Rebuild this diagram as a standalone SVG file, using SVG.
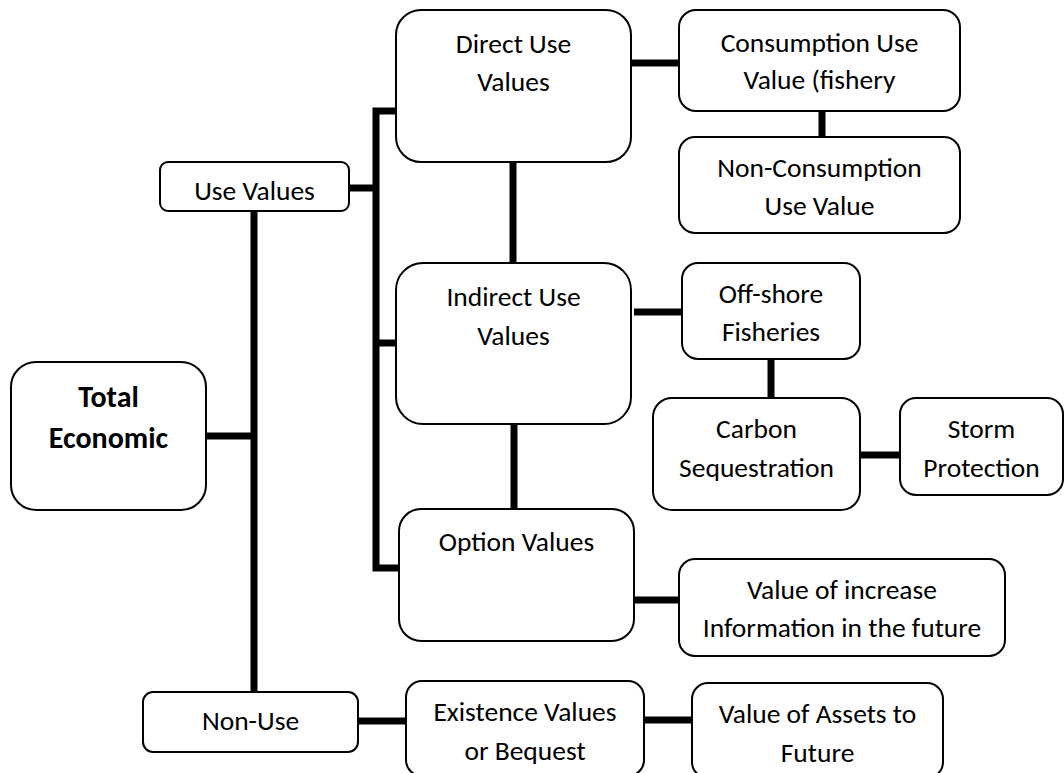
<svg xmlns="http://www.w3.org/2000/svg" width="1064" height="773" viewBox="0 0 1064 773">
  <style>
    .box { fill: #ffffff; stroke: #000000; stroke-width: 2; }
    .lbl { font-family: Carlito, Lato, "Open Sans", sans-serif; font-size: 27.5px; fill: #000000; text-anchor: middle; }
    .bold { font-weight: bold; font-size: 30px; }
    .link { fill: none; stroke: #000000; stroke-width: 7; stroke-linecap: butt; stroke-linejoin: miter; }
  </style>
  <rect width="1064" height="773" fill="#ffffff"/>

  <!-- thick connector lines -->
  <g id="connectors">
    <path class="link" d="M206 436 H254"/>
    <path class="link" d="M254 211 V692"/>
    <path class="link" d="M349 188 H376"/>
    <path class="link" d="M396 111 H376 V568 H399"/>
    <path class="link" d="M376 343 H399"/>
    <path class="link" d="M631 63 H679"/>
    <path class="link" d="M822 111 V137"/>
    <path class="link" d="M513 162 V263"/>
    <path class="link" d="M634 312 H682"/>
    <path class="link" d="M771 356 V398"/>
    <path class="link" d="M860 455 H900"/>
    <path class="link" d="M514 424 V509"/>
    <path class="link" d="M634 600 H682"/>
    <path class="link" d="M358 721 H406"/>
    <path class="link" d="M643 720 H692"/>
  </g>

  <g id="total-economic">
    <rect class="box" x="11" y="362" width="195" height="148" rx="25"/>
    <text class="lbl bold" x="108.5" y="407">Total</text>
    <text class="lbl bold" x="108.5" y="448">Economic</text>
  </g>

  <g id="use-values">
    <rect class="box" x="160" y="162" width="189" height="49" rx="8"/>
    <text class="lbl" x="254.5" y="200">Use Values</text>
  </g>

  <g id="direct-use">
    <rect class="box" x="396" y="10" width="235" height="152" rx="25"/>
    <text class="lbl" x="513.5" y="53">Direct Use</text>
    <text class="lbl" x="513.5" y="91">Values</text>
  </g>

  <g id="consumption">
    <rect class="box" x="679" y="10" width="281" height="101" rx="17"/>
    <text class="lbl" x="819.5" y="52">Consumption Use</text>
    <text class="lbl" x="819.5" y="89">Value (fishery</text>
  </g>

  <g id="non-consumption">
    <rect class="box" x="679" y="137" width="281" height="96" rx="16"/>
    <text class="lbl" x="819.5" y="177">Non-Consumption</text>
    <text class="lbl" x="819.5" y="215">Use Value</text>
  </g>

  <g id="indirect-use">
    <rect class="box" x="396" y="263" width="235" height="161" rx="27"/>
    <text class="lbl" x="513.5" y="306">Indirect Use</text>
    <text class="lbl" x="513.5" y="345">Values</text>
  </g>

  <g id="offshore">
    <rect class="box" x="682" y="263" width="178" height="96" rx="16"/>
    <text class="lbl" x="771" y="303">Off-shore</text>
    <text class="lbl" x="771" y="341">Fisheries</text>
  </g>

  <g id="carbon">
    <rect class="box" x="653" y="398" width="207" height="112" rx="19"/>
    <text class="lbl" x="756.5" y="438">Carbon</text>
    <text class="lbl" x="756.5" y="477">Sequestration</text>
  </g>

  <g id="storm">
    <rect class="box" x="900" y="398" width="163" height="97" rx="16"/>
    <text class="lbl" x="981.5" y="438">Storm</text>
    <text class="lbl" x="981.5" y="477">Protection</text>
  </g>

  <g id="option-values">
    <rect class="box" x="399" y="509" width="235" height="132" rx="22"/>
    <text class="lbl" x="516.5" y="551">Option Values</text>
  </g>

  <g id="information">
    <rect class="box" x="679" y="559" width="326" height="97" rx="16"/>
    <text class="lbl" x="842" y="599">Value of increase</text>
    <text class="lbl" x="842" y="637">Information in the future</text>
  </g>

  <g id="non-use">
    <rect class="box" x="143" y="692" width="215" height="60" rx="10"/>
    <text class="lbl" x="250.5" y="730">Non-Use</text>
  </g>

  <g id="existence">
    <rect class="box" x="406" y="681" width="238" height="95" rx="16"/>
    <text class="lbl" x="525" y="721">Existence Values</text>
    <text class="lbl" x="525" y="760">or Bequest</text>
  </g>

  <g id="assets">
    <rect class="box" x="692" y="683" width="251" height="95" rx="16"/>
    <text class="lbl" x="817.5" y="723">Value of Assets to</text>
    <text class="lbl" x="817.5" y="762">Future</text>
  </g>
</svg>
